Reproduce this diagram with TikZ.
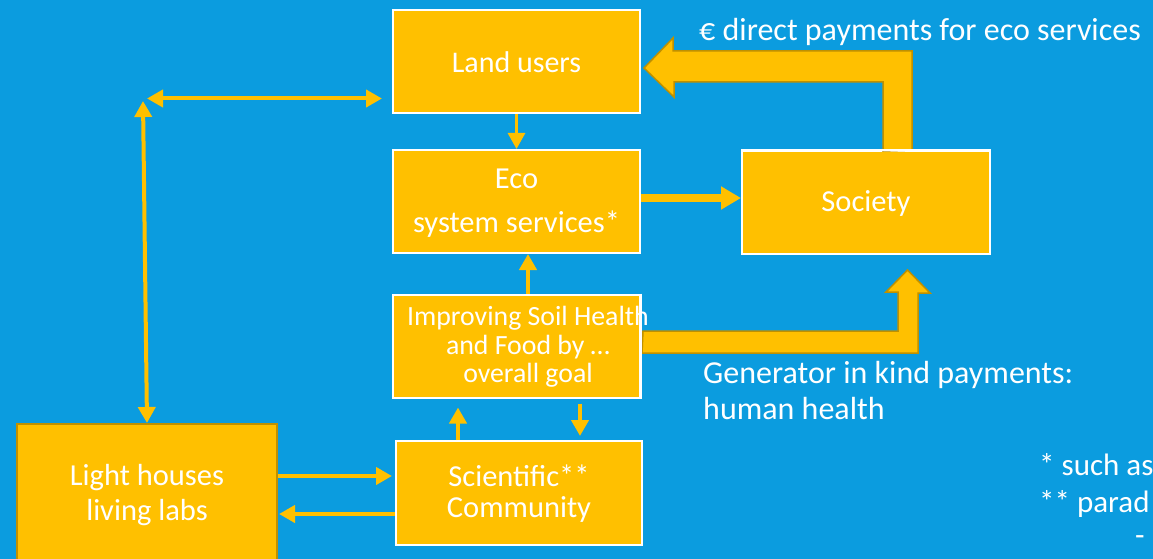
\documentclass[tikz,border=0pt]{standalone}
\usepackage{fontspec}
\setmainfont{Carlito}
\usetikzlibrary{arrows.meta,calc}
\definecolor{bg}{HTML}{0B9CDF}
\definecolor{gold}{HTML}{FFC000}
\definecolor{darkgold}{HTML}{BF9000}
\begin{document}
\begin{tikzpicture}[x=1pt,y=-1pt,
  box/.style={draw=white,line width=2pt,fill=gold,inner sep=0pt,minimum width=247pt,minimum height=103pt},
  txt/.style={text=white,font=\fontsize{30.5}{35}\selectfont,align=center,inner sep=0pt},
  thin/.style={draw=gold,line width=4pt,-{Triangle[width=17pt,length=16pt]}},
  thinboth/.style={draw=gold,line width=4pt,{Triangle[width=17pt,length=16pt]}-{Triangle[width=17pt,length=16pt]}},
  thick/.style={draw=gold,line width=8pt,-{Triangle[width=22pt,length=20pt]}},
  blockarrow/.style={fill=gold,draw=darkgold,line width=1.5pt,line join=miter}]
\useasboundingbox (0,0) rectangle (1153,559);
\fill[bg] (0,0) rectangle (1153,559);
\clip (0,0) rectangle (1153,559);

% boxes
\node[box] (lu) at (516.5,61.5) {};
\node[box] (eco) at (516.5,201.5) {};
\node[box,minimum width=248pt] (soc) at (866,202.5) {};
\node[box] (imp) at (516.5,346) {};
\node[box,minimum width=246pt,minimum height=104pt] (sci) at (519,493) {};
\node[box,draw=darkgold,minimum width=260pt,minimum height=176pt] (lh) at (147,512) {};

% block arrows
\draw[blockarrow] ([xshift=46pt]soc.north) -- ++(0,-99) -- ++(-239,0) -- ++(0,-13)
  -- ([shift={(3,6.5)}]lu.east) -- ++(30,29) -- ++(0,-15) -- ++(209,0) -- ++(0,69) -- cycle;
\draw[blockarrow] ([shift={(2,-15)}]imp.east) -- ++(255,0) -- ++(0,-39) -- ++(-12,0)
  -- ([shift={(41.5,15)}]soc.south) -- ++(22.5,23) -- ++(-12,0) -- ++(0,60) -- ++(-276,0) -- cycle;
% redraw box borders over arrow starts
\draw[white,line width=2pt] (imp.north east) -- (imp.south east);
\draw[white,line width=2pt] (soc.north west) -- (soc.north east);

% texts
\node[txt,font=\fontsize{30}{35}\selectfont] (lut) at (516.5,62.5) {Land users};
\node[txt,font=\fontsize{30.5}{44}\selectfont] (ecot) at (516.5,203) {Eco\\system services*};
\node[txt] (soct) at (866,203.5) {Society};
\node[txt,font=\fontsize{27.8}{28.5}\selectfont] (impt) at (528,347) {Improving Soil Health\\and Food by \dots\\overall goal};
\node[txt,font=\fontsize{30.5}{31}\selectfont] (scit) at (519,493.5) {Scientific**\\Community};
\node[txt] (lht) at (147,495.5) {Light houses\\living labs};
\node[txt,anchor=west,align=left,font=\fontsize{32}{36}\selectfont] (gen) at (703,391) {Generator in kind payments:\\human health};
\node[txt,anchor=west,font=\fontsize{32}{36}\selectfont] (eur) at (699,32) {€ direct payments for eco services};
\node[txt,anchor=west,font=\fontsize{31}{36}\selectfont] (n1) at (1039,465) {* such as};
\node[txt,anchor=west,font=\fontsize{31}{36}\selectfont] (n2) at (1039,504) {** parad};
\node[txt,anchor=west,font=\fontsize{31}{36}\selectfont] (n3) at (1135,541) {-};

% thin arrows
\coordinate (hl) at (147,98.5);
\coordinate (vt) at (143,101);
\draw[thin,line width=3pt] (lu.south) -- (eco.north);
\draw[thinboth] (hl) -- ([shift={(-10,37)}]lu.west);
\draw[thinboth] (vt) -- (lh.north);
\draw[thick] (eco.east |- 0,198) -- (soc.west |- 0,198);
\draw[thin] ([xshift=11.5pt]imp.north) -- ([xshift=11.5pt]eco.south);
\draw[thin] (sci.north -| 458,0) -- ([yshift=-9pt]imp.south -| 458,0);
\draw[thin] ([yshift=-5pt]imp.south -| 580,0) -- ([yshift=4pt]sci.north -| 580,0);
\draw[thin] (lh.east |- 0,476) -- ([xshift=-3pt]sci.west |- 0,476);
\draw[thin] (sci.west |- 0,514) -- ([xshift=1pt]lh.east |- 0,514);
\end{tikzpicture}
\end{document}
